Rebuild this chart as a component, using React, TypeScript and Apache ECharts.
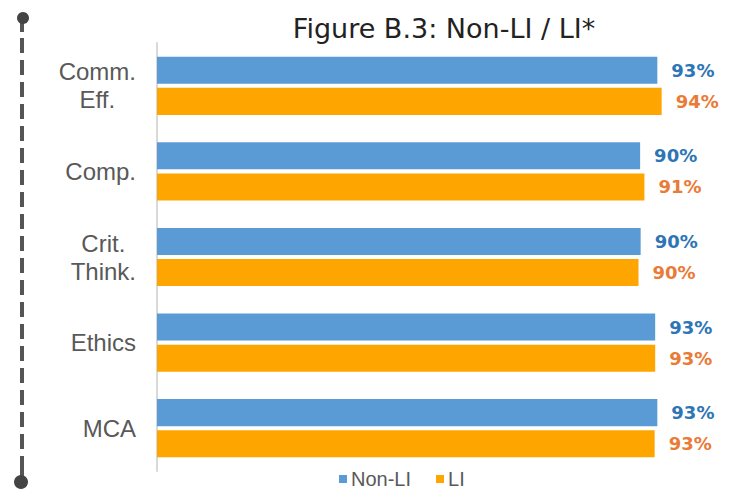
import React, { useEffect, useRef } from "react";
import * as echarts from "echarts";

const titleText = "Figure B.3: Non-LI / LI*";
const categories = ["Comm.\nEff.", "Comp.", "Crit.\nThink.", "Ethics", "MCA"];
const seriesNames = ["Non-LI", "LI"];
const nonLIValues = [93.0, 89.8, 89.9, 92.6, 93.0];
const liValues = [93.8, 90.6, 89.5, 92.6, 92.5];

export default function App() {
  const ref = useRef<HTMLDivElement>(null);
  useEffect(() => {
    if (!ref.current) return;
    const chart = echarts.init(ref.current, undefined, { renderer: "svg" });
    const labelFmt = (p: any) => Math.round(p.value) + "%";
    const catFont = {
      fontFamily: "Liberation Sans",
      fontSize: 24,
      lineHeight: 28,
      color: "#595959",
    };
    chart.setOption({
      animation: false,
      backgroundColor: "#ffffff",
      title: {
        text: titleText,
        left: 439,
        top: 8,
        textAlign: "center",
        textStyle: {
          fontFamily: "DejaVu Sans",
          fontSize: 27,
          fontWeight: "normal",
          color: "#222222",
          lineHeight: 30,
        },
      },
      legend: {
        data: seriesNames,
        left: 334,
        top: 464,
        icon: "rect",
        itemWidth: 8,
        itemHeight: 8,
        itemGap: 25,
        textStyle: {
          fontFamily: "Liberation Sans",
          fontSize: 20,
          color: "#595959",
          padding: [0, 0, 0, -1],
        },
      },
      grid: { left: 157, right: 42, top: 43, bottom: 22, containLabel: false },
      xAxis: {
        type: "value",
        min: 0,
        max: 100,
        show: false,
      },
      yAxis: {
        type: "category",
        data: categories,
        inverse: true,
        axisLine: { show: true, lineStyle: { color: "#D9D9D9", width: 2 } },
        axisTick: { show: false },
        splitLine: { show: false },
        axisLabel: {
          ...catFont,
          margin: 21,
          align: "right",
          formatter: (v: string) =>
            v
              .split("\n")
              .map((s) => "{c|" + s + "}")
              .join("\n"),
          rich: {
            c: { ...catFont, align: "center" },
          },
        },
      },
      series: [
        {
          name: seriesNames[0],
          type: "bar",
          data: nonLIValues,
          barCategoryGap: "32%",
          barGap: "15%",
          itemStyle: { color: "#5B9BD5" },
          label: {
            show: true,
            position: "right",
            distance: 14,
            formatter: labelFmt,
            fontFamily: "DejaVu Sans",
            fontWeight: "bold",
            fontSize: 18,
            color: "#2E75B6",
          },
        },
        {
          name: seriesNames[1],
          type: "bar",
          data: liValues,
          barCategoryGap: "32%",
          barGap: "15%",
          itemStyle: { color: "#FFA500" },
          label: {
            show: true,
            position: "right",
            distance: 14,
            formatter: labelFmt,
            fontFamily: "DejaVu Sans",
            fontWeight: "bold",
            fontSize: 18,
            color: "#E97B37",
          },
        },
      ],
      graphic: [
        {
          type: "line",
          shape: { x1: 22, y1: 38, x2: 22, y2: 472 },
          style: { stroke: "#555555", lineWidth: 4, lineDash: [15, 7] },
          silent: true,
        },
        {
          type: "line",
          shape: { x1: 22, y1: 17, x2: 22, y2: 32 },
          style: { stroke: "#555555", lineWidth: 4 },
          silent: true,
        },
        {
          type: "line",
          shape: { x1: 22, y1: 470, x2: 22, y2: 482 },
          style: { stroke: "#555555", lineWidth: 4 },
          silent: true,
        },
        {
          type: "circle",
          shape: { cx: 23, cy: 18, r: 6 },
          style: { fill: "#444444" },
          silent: true,
        },
        {
          type: "circle",
          shape: { cx: 21, cy: 482, r: 7 },
          style: { fill: "#444444" },
          silent: true,
        },
      ],
    });
    return () => chart.dispose();
  }, []);
  return (
    <div
      ref={ref}
      style={{ width: 737, height: 493, position: "absolute", left: 0, top: 0 }}
    />
  );
}
